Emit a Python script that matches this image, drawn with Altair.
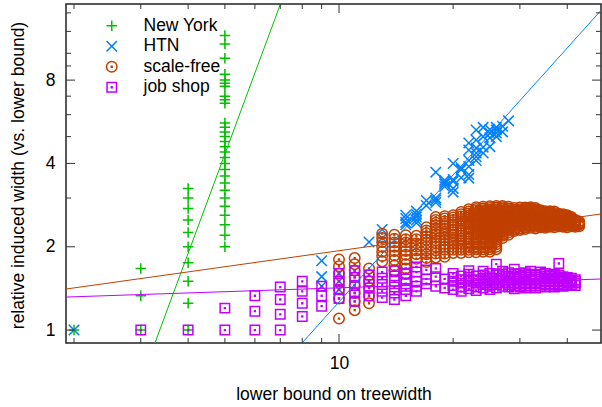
import altair as alt
import pandas as pd

SERIES = ["New York", "HTN", "scale-free", "job shop"]
COLORS = ["#00c000", "#0080ff", "#c04000", "#c000ff"]

# New York: lower bound -> relative induced widths
ny_cols = {
    2: [1.0],
    3: [1.0, 1.33, 1.67],
    4: [1.0, 1.25, 1.5, 1.75, 2.0, 2.25, 2.5, 2.75, 3.0, 3.25],
    5: [2.0, 2.2, 2.4, 2.6, 2.8, 3.0, 3.2, 3.4, 3.6, 3.8, 4.0, 4.2, 4.4, 4.6, 4.8,
        5.0, 5.2, 5.4, 5.6, 6.6, 6.8, 7.0, 7.6, 7.8, 8.0, 8.4, 9.6, 10.8, 11.6],
}

# HTN
htn_x = [2, 9, 9, 9, 10, 10, 10, 12, 13, 13, 15, 15, 15, 15, 16, 16, 16, 16, 16,
         17, 17, 18, 18, 18, 18, 19, 19, 19, 19, 20, 20, 20, 20, 20, 21, 21, 21,
         22, 22, 22, 22, 22, 22, 23, 23, 23, 23, 23, 23, 24, 24, 24, 24, 25, 25,
         25, 25, 26, 26, 26, 26, 27, 27, 28]
htn_y = [1.0, 1.44, 1.56, 1.78, 1.4, 1.5, 1.6, 2.08, 2.15, 2.31, 2.4, 2.45, 2.53,
         2.6, 2.44, 2.5, 2.56, 2.62, 2.69, 2.82, 2.94, 2.89, 2.95, 3.0, 3.72,
         3.3, 3.37, 3.42, 3.48, 3.15, 3.25, 3.45, 3.5, 4.0, 3.55, 3.8, 3.86,
         3.54, 3.65, 3.9, 4.1, 4.47, 4.74, 4.1, 4.23, 4.36, 4.55, 4.86, 5.28,
         4.36, 4.58, 5.0, 5.4, 4.6, 4.95, 5.15, 5.3, 5.0, 5.15, 5.28, 5.4,
         5.2, 5.45, 5.7]

# scale-free
sf_cols = {
    10: [1.1, 1.3, 1.4, 1.5, 1.6, 1.7, 1.8],
    11: [1.18, 1.27, 1.36, 1.45, 1.55, 1.64, 1.73, 1.82],
    12: [1.25, 1.33, 1.42, 1.5, 1.58, 1.67],
    13: [1.77, 1.85, 1.92, 2.0, 2.08, 2.15, 2.23],
    14: [1.64, 1.71, 1.79, 1.86, 1.93, 2.0, 2.07, 2.14, 2.21],
    15: [1.6, 1.67, 1.73, 1.8, 1.87, 1.93, 2.0, 2.07, 2.13, 2.2],
    16: [1.81, 1.88, 1.94, 2.0, 2.06, 2.13, 2.19],
    17: [1.76, 1.82, 1.88, 1.94, 2.0, 2.06, 2.12, 2.18, 2.24, 2.29, 2.35],
    18: [1.83, 1.89, 1.94, 2.0, 2.06, 2.11, 2.17, 2.22, 2.28, 2.33, 2.39, 2.44, 2.5, 2.56],
    19: [1.84, 1.89, 1.95, 2.0, 2.05, 2.11, 2.16, 2.21, 2.26, 2.32, 2.37, 2.42, 2.47, 2.53, 2.58],
    20: [1.9, 1.95, 2.0, 2.05, 2.1, 2.15, 2.2, 2.25, 2.3, 2.35, 2.4, 2.45, 2.5, 2.55, 2.6],
    21: [1.9, 1.95, 2.0, 2.05, 2.1, 2.14, 2.19, 2.24, 2.29, 2.33, 2.38, 2.43, 2.48, 2.52,
         2.57, 2.62, 2.67],
    22: [1.91, 1.95, 2.0, 2.05, 2.09, 2.14, 2.18, 2.23, 2.27, 2.32, 2.36, 2.41, 2.45, 2.5,
         2.55, 2.59, 2.64, 2.68, 2.73],
    23: [1.91, 1.96, 2.0, 2.04, 2.09, 2.13, 2.17, 2.22, 2.26, 2.3, 2.35, 2.39, 2.43, 2.48,
         2.52, 2.57, 2.61, 2.65, 2.7, 2.74, 2.78],
    24: [1.92, 1.96, 2.0, 2.04, 2.08, 2.13, 2.17, 2.21, 2.25, 2.29, 2.33, 2.38, 2.42, 2.46,
         2.5, 2.54, 2.58, 2.63, 2.67, 2.71, 2.75, 2.79],
    25: [1.92, 1.96, 2.0, 2.04, 2.08, 2.12, 2.16, 2.2, 2.24, 2.28, 2.32, 2.36, 2.4, 2.44,
         2.48, 2.52, 2.56, 2.6, 2.64, 2.68, 2.72, 2.76, 2.8],
    26: [1.96, 2.0, 2.04, 2.08, 2.12, 2.15, 2.19, 2.23, 2.27, 2.31, 2.35, 2.38, 2.42, 2.46,
         2.5, 2.54, 2.58, 2.62, 2.65, 2.69, 2.73, 2.77, 2.81],
    27: [2.15, 2.19, 2.22, 2.26, 2.3, 2.33, 2.37, 2.41, 2.44, 2.48, 2.52, 2.56, 2.59, 2.63,
         2.67, 2.7, 2.74, 2.78, 2.81],
    28: [2.21, 2.25, 2.29, 2.32, 2.36, 2.39, 2.43, 2.46, 2.5, 2.54, 2.57, 2.61, 2.64, 2.68,
         2.71, 2.75, 2.79],
    29: [2.28, 2.31, 2.34, 2.38, 2.41, 2.45, 2.48, 2.52, 2.55, 2.59, 2.62, 2.66, 2.69,
         2.72, 2.76],
    30: [2.3, 2.33, 2.37, 2.4, 2.43, 2.47, 2.5, 2.53, 2.57, 2.6, 2.63, 2.67, 2.7, 2.73, 2.77],
    31: [2.32, 2.35, 2.39, 2.42, 2.45, 2.48, 2.52, 2.55, 2.58, 2.61, 2.65, 2.68, 2.71,
         2.74, 2.77],
    32: [2.34, 2.38, 2.41, 2.44, 2.47, 2.5, 2.53, 2.56, 2.59, 2.63, 2.66, 2.69, 2.72,
         2.75, 2.78],
    33: [2.33, 2.36, 2.39, 2.42, 2.45, 2.48, 2.52, 2.55, 2.58, 2.61, 2.64, 2.67, 2.7,
         2.73, 2.76],
    34: [2.35, 2.38, 2.41, 2.44, 2.47, 2.5, 2.53, 2.56, 2.59, 2.62, 2.65, 2.68, 2.71],
    35: [2.34, 2.37, 2.4, 2.43, 2.46, 2.49, 2.51, 2.54, 2.57, 2.6, 2.63, 2.66, 2.69],
    36: [2.36, 2.39, 2.42, 2.44, 2.47, 2.5, 2.53, 2.56, 2.58, 2.61, 2.64, 2.67, 2.69],
    37: [2.35, 2.38, 2.41, 2.43, 2.46, 2.49, 2.51, 2.54, 2.57, 2.59, 2.62, 2.65, 2.68],
    38: [2.37, 2.39, 2.42, 2.45, 2.47, 2.5, 2.53, 2.55, 2.58, 2.61, 2.63],
    39: [2.36, 2.38, 2.41, 2.44, 2.46, 2.49, 2.51, 2.54, 2.56, 2.59, 2.62],
    40: [2.35, 2.38, 2.4, 2.43, 2.45, 2.48, 2.5, 2.53, 2.55, 2.58, 2.6],
    41: [2.37, 2.39, 2.41, 2.44, 2.46, 2.49, 2.51, 2.54, 2.56],
    42: [2.36, 2.38, 2.4, 2.43, 2.45, 2.48, 2.5],
    43: [2.37, 2.4, 2.42, 2.44, 2.47],
}

# job shop
js_cols = {
    3: [1.0], 4: [1.0], 5: [1.0, 1.2], 6: [1.0, 1.17, 1.33],
    7: [1.0, 1.14, 1.29, 1.43], 8: [1.12, 1.25, 1.38, 1.5],
    9: [1.22, 1.33, 1.44], 10: [1.3, 1.4, 1.5, 1.6],
    11: [1.27, 1.36, 1.45, 1.55, 1.64], 12: [1.33, 1.42, 1.5, 1.58],
    13: [1.31, 1.38, 1.46, 1.54, 1.62], 14: [1.29, 1.36, 1.43, 1.5, 1.57, 1.64],
    15: [1.33, 1.4, 1.47, 1.53, 1.6], 16: [1.38, 1.44, 1.5, 1.62, 1.69],
    17: [1.47, 1.53, 1.65], 18: [1.44, 1.56, 1.67], 19: [1.42, 1.53],
    20: [1.4, 1.45, 1.5, 1.55, 1.6], 21: [1.38, 1.43, 1.48, 1.52, 1.57],
    22: [1.41, 1.45, 1.5, 1.55, 1.59, 1.64], 23: [1.39, 1.43, 1.48, 1.52, 1.57],
    24: [1.42, 1.46, 1.5, 1.54, 1.58, 1.63], 25: [1.4, 1.44, 1.48, 1.52, 1.56, 1.6],
    26: [1.42, 1.46, 1.5, 1.54, 1.58, 1.73], 27: [1.44, 1.48, 1.52, 1.56, 1.59, 1.63],
    28: [1.43, 1.46, 1.5, 1.54, 1.57, 1.61], 29: [1.41, 1.45, 1.48, 1.52, 1.55, 1.59, 1.66],
    30: [1.43, 1.47, 1.5, 1.53, 1.57, 1.6], 31: [1.42, 1.45, 1.48, 1.52, 1.55, 1.58, 1.61],
    32: [1.44, 1.47, 1.5, 1.53, 1.56, 1.59, 1.63], 33: [1.42, 1.45, 1.48, 1.52, 1.55, 1.58],
    34: [1.44, 1.47, 1.5, 1.53, 1.56, 1.59, 1.62], 35: [1.43, 1.46, 1.49, 1.51, 1.54, 1.57, 1.6],
    36: [1.44, 1.47, 1.5, 1.53, 1.56, 1.58], 37: [1.43, 1.46, 1.49, 1.51, 1.54, 1.57, 1.59],
    38: [1.45, 1.47, 1.5, 1.53, 1.55, 1.58, 1.74], 39: [1.44, 1.46, 1.49, 1.51, 1.54, 1.56],
    40: [1.45, 1.48, 1.5, 1.53, 1.55], 41: [1.46, 1.49, 1.51, 1.54],
    42: [1.45, 1.48, 1.5, 1.52],
}

# power-law fits y = a * x^b
fit_a = [0.01121, 0.03783, 1.243, 1.2775]
fit_b = [3.70, 1.524, 0.1922, 0.0462]

X_DOMAIN = [1.905, 49.1]
Y_DOMAIN = [0.898, 15.07]

x_major = [10]
x_minor = [2, 3, 4, 5, 6, 7, 8, 9, 20, 30, 40]
y_major = [1, 2, 4, 8]
y_minor = [3, 5, 6, 7, 9, 10, 12, 14]

W, H = 535, 339
FONT = "Liberation Sans"
FS = 17.5

PLUS = "M-1,0H1M0,-1V1"
CROSS = "M-1,-1L1,1M-1,1L1,-1"
CIRC = "M1,0A1,1,0,1,1,-1,0A1,1,0,1,1,1,0Z M-0.08,-0.08H0.08V0.08H-0.08Z"
SQR = "M-0.9,-0.9H0.9V0.9H-0.9Z M-0.08,-0.08H0.08V0.08H-0.08Z"
SHAPES = [PLUS, CROSS, CIRC, SQR]

rows = []
for x, ys in ny_cols.items():
    rows += [{"series": "New York", "x": x, "y": y} for y in ys]
rows += [{"series": "HTN", "x": x, "y": y} for x, y in zip(htn_x, htn_y)]
for x, ys in sf_cols.items():
    rows += [{"series": "scale-free", "x": x, "y": y} for y in ys]
for x, ys in js_cols.items():
    rows += [{"series": "job shop", "x": x, "y": y} for y in ys]
pts = pd.DataFrame(rows)
pts["order"] = range(len(pts))

xs = alt.Scale(type="log", domain=X_DOMAIN, nice=False, zero=False)
ys_ = alt.Scale(type="log", domain=Y_DOMAIN, nice=False, zero=False)

legend = alt.Legend(title=None, orient="none", legendX=37, legendY=13, padding=0,
                    labelFont=FONT, labelFontSize=FS, labelColor="black",
                    labelOffset=23, rowPadding=1.5, symbolSize=110,
                    symbolStrokeWidth=1.5)

x_axis = alt.Axis(values=x_major, title="lower bound on treewidth", grid=False,
                  ticks=False, tickSize=0, domain=False, labelFont=FONT,
                  labelFontSize=FS, labelColor="black", labelPadding=25,
                  labelBaseline="alphabetic", labelExpr="format(datum.value, 'd')",
                  titleFont=FONT, titleFontSize=FS, titleFontWeight="normal",
                  titleColor="black", titleY=56, titleBaseline="alphabetic")
y_axis = alt.Axis(values=y_major, title="relative induced width (vs. lower bound)",
                  grid=False, ticks=False, tickSize=0, domain=False,
                  labelFont=FONT, labelFontSize=FS, labelColor="black",
                  labelPadding=11, labelExpr="format(datum.value, 'd')",
                  titleFont=FONT, titleFontSize=FS, titleFontWeight="normal",
                  titleColor="black", titleAngle=270, titleX=-43, titleY=H / 2 + 1.5,
                  titleBaseline="alphabetic", titleAlign="center")

points = alt.Chart(pts).mark_point(filled=False, strokeWidth=1.5, size=110, opacity=1).encode(
    x=alt.X("x:Q", scale=xs, axis=x_axis),
    y=alt.Y("y:Q", scale=ys_, axis=y_axis),
    color=alt.Color("series:N", scale=alt.Scale(domain=SERIES, range=COLORS), legend=legend),
    shape=alt.Shape("series:N", scale=alt.Scale(domain=SERIES, range=SHAPES), legend=legend),
    order="order:Q",
)

layers = [points]
for s, c, a, b in zip(SERIES, COLORS, fit_a, fit_b):
    ldf = pd.DataFrame({"x": X_DOMAIN, "y": [a * X_DOMAIN[0] ** b, a * X_DOMAIN[1] ** b]})
    layers.append(alt.Chart(ldf).mark_line(color=c, strokeWidth=1, clip=True).encode(
        x=alt.X("x:Q", scale=xs), y=alt.Y("y:Q", scale=ys_)))

TICK_COL = "#333"
def xticks(vals, ln):
    d = pd.DataFrame({"t": vals})
    bot = alt.Chart(d).mark_rule(color=TICK_COL, strokeWidth=1).encode(
        x=alt.X("t:Q", scale=xs), y=alt.value(H), y2=alt.value(H - ln))
    top = alt.Chart(d).mark_rule(color=TICK_COL, strokeWidth=1).encode(
        x=alt.X("t:Q", scale=xs), y=alt.value(0), y2=alt.value(ln))
    return [bot, top]

def yticks(vals, ln):
    d = pd.DataFrame({"t": vals})
    lft = alt.Chart(d).mark_rule(color=TICK_COL, strokeWidth=1).encode(
        y=alt.Y("t:Q", scale=ys_), x=alt.value(0), x2=alt.value(ln))
    rgt = alt.Chart(d).mark_rule(color=TICK_COL, strokeWidth=1).encode(
        y=alt.Y("t:Q", scale=ys_), x=alt.value(W), x2=alt.value(W - ln))
    return [lft, rgt]

layers += xticks(x_major, 9) + xticks(x_minor, 5) + yticks(y_major, 9) + yticks(y_minor, 5)

chart = alt.layer(*layers).properties(
    width=W, height=H,
    autosize=alt.AutoSizeParams(type="none"),
    padding={"left": 66, "top": 4, "right": 1, "bottom": 64},
).configure(font=FONT).configure_view(stroke="#222", strokeWidth=1.5)

chart.save("out.html", embed_options={"renderer": "svg", "actions": False})
